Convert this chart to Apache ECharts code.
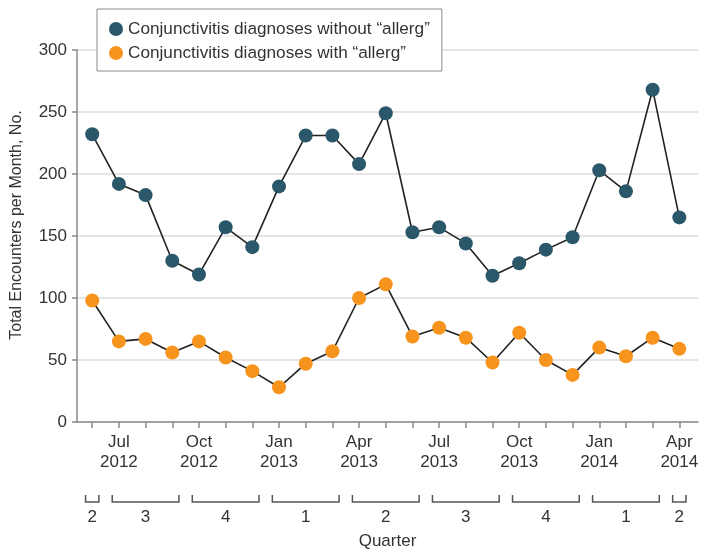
<!DOCTYPE html>
<html>
<head>
<meta charset="utf-8">
<script src="https://cdn.jsdelivr.net/npm/echarts@6/dist/echarts.min.js"></script>
<style>html,body{margin:0;padding:0;background:#fff}#c{width:709px;height:560px}</style>
</head>
<body>
<div id="c"></div>
<script>
// Months Jun 2012 .. Apr 2014 (index 0..22)
const months = ['Jun 2012','Jul 2012','Aug 2012','Sep 2012','Oct 2012','Nov 2012','Dec 2012',
  'Jan 2013','Feb 2013','Mar 2013','Apr 2013','May 2013','Jun 2013','Jul 2013','Aug 2013','Sep 2013',
  'Oct 2013','Nov 2013','Dec 2013','Jan 2014','Feb 2014','Mar 2014','Apr 2014'];
const withoutAllerg = [232,192,183,130,119,157,141,190,231,231,208,249,153,157,144,118,128,139,149,203,186,268,165];
const withAllerg = [98,65,67,56,65,52,41,28,47,57,100,111,69,76,68,48,72,50,38,60,53,68,59];
const tickLabelIdx = [1,4,7,10,13,16,19,22];
const tickLabelText = ['Jul\n2012','Oct\n2012','Jan\n2013','Apr\n2013','Jul\n2013','Oct\n2013','Jan\n2014','Apr\n2014'];
const quarterLabels = ['2','3','4','1','2','3','4','1','2'];
const quarterStart = [0,1,4,7,10,13,16,19,22];
const quarterEnd = [0,3,6,9,12,15,18,21,22];

const FONT = 'Liberation Sans';
const TXT = '#333';
const AX = '#8a8a8a';
const TEAL = '#2a5769';
const ORANGE = '#f7941d';

const chart = echarts.init(document.getElementById('c'), null, {renderer:'canvas'});
const idx = months.map((m,i)=>i);
chart.setOption({
  animation:false,
  textStyle:{fontFamily:FONT},
  grid:{left:77, right:11, top:50, bottom:138, containLabel:false},
  legend:{
    data:['Conjunctivitis diagnoses without “allerg”','Conjunctivitis diagnoses with “allerg”'],
    orient:'vertical', left:97, top:9,
    icon:'circle', itemWidth:14, itemHeight:14, itemGap:4,
    padding:[10,12,8,12],
    backgroundColor:'#fff', borderColor:'#8a8a8a', borderWidth:1,
    textStyle:{fontFamily:FONT, fontSize:17.2, color:TXT, lineHeight:20},
    selectedMode:false
  },
  xAxis:{
    type:'value', min:-0.57, max:22.7,
    name:'Quarter', nameLocation:'middle', nameGap:109,
    nameTextStyle:{fontFamily:FONT, fontSize:17, color:TXT, lineHeight:20},
    axisLine:{show:true, onZero:false, lineStyle:{color:AX, width:1.5}},
    axisTick:{show:true, length:6, lineStyle:{color:AX, width:1.5}, customValues:idx},
    axisLabel:{show:true, customValues:tickLabelIdx, margin:10, fontFamily:FONT, fontSize:17, color:TXT, lineHeight:20,
      formatter:(v)=>{const k=tickLabelIdx.indexOf(Math.round(v)); return k>=0?tickLabelText[k]:'';}},
    splitLine:{show:false}
  },
  yAxis:{
    type:'value', min:0, max:300, interval:50,
    name:'Total Encounters per Month, No.', nameLocation:'middle', nameGap:51,
    nameTextStyle:{fontFamily:FONT, fontSize:16, color:TXT, lineHeight:18, padding:[0,0,0,22]},
    axisLine:{show:true, onZero:false, lineStyle:{color:AX, width:1.5}},
    axisTick:{show:true, length:5, lineStyle:{color:AX, width:1.5}},
    axisLabel:{margin:10, fontFamily:FONT, fontSize:17, color:TXT},
    splitLine:{show:true, lineStyle:{color:'#dcdcdc', width:1.5}}
  },
  series:[
    {
      name:'Conjunctivitis diagnoses without “allerg”', type:'line',
      data:withoutAllerg.map((v,i)=>[i,v]),
      symbol:'circle', symbolSize:14,
      itemStyle:{color:TEAL},
      lineStyle:{color:'#222', width:1.6},
      z:3
    },
    {
      name:'Conjunctivitis diagnoses with “allerg”', type:'line',
      data:withAllerg.map((v,i)=>[i,v]),
      symbol:'circle', symbolSize:14,
      itemStyle:{color:ORANGE},
      lineStyle:{color:'#222', width:1.6},
      z:3
    },
    {
      type:'custom', clip:false, silent:true,
      data:quarterStart.map((s,i)=>[s, quarterEnd[i], 0]),
      encode:{x:[0,1], y:2},
      renderItem:(params, api)=>{
        const a = api.coord([api.value(0)-0.25, 0]);
        const b = api.coord([api.value(1)+0.25, 0]);
        const y = a[1];
        return {type:'group', children:[
          {type:'polyline', shape:{points:[[a[0],y+73],[a[0],y+80],[b[0],y+80],[b[0],y+73]]},
            style:{stroke:'#555', lineWidth:1.5, fill:null}},
          {type:'text', style:{text:quarterLabels[params.dataIndex], x:(a[0]+b[0])/2, y:y+95,
            align:'center', verticalAlign:'middle', font:'17px "'+FONT+'"', fill:TXT}}
        ]};
      }
    }
  ]
});
</script>
</body>
</html>
